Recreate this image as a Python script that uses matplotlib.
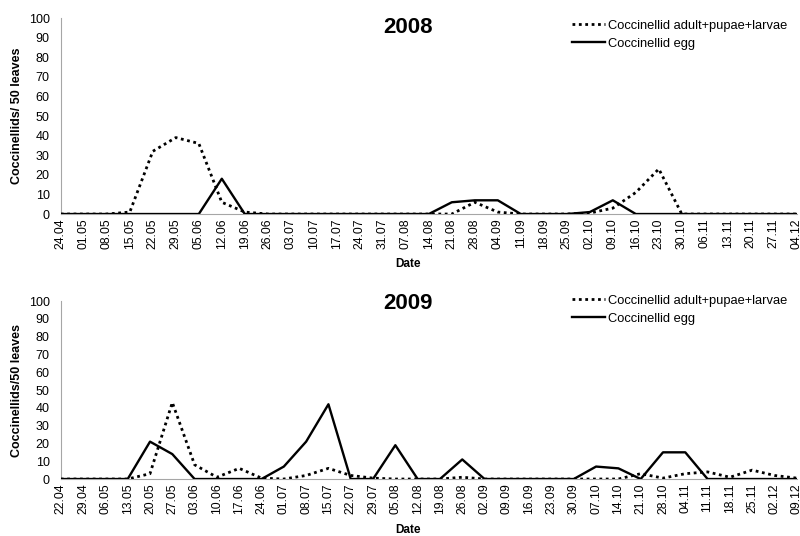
import matplotlib
matplotlib.use("Agg")
import matplotlib.pyplot as plt

plt.rcParams['font.family'] = ['Liberation Sans', 'DejaVu Sans']

dates_2008 = ["24.04", "01.05", "08.05", "15.05", "22.05", "29.05", "05.06", "12.06", "19.06",
              "26.06", "03.07", "10.07", "17.07", "24.07", "31.07", "07.08", "14.08", "21.08",
              "28.08", "04.09", "11.09", "18.09", "25.09", "02.10", "09.10", "16.10", "23.10",
              "30.10", "06.11", "13.11", "20.11", "27.11", "04.12"]
adult_2008 = [0, 0, 0, 1, 32, 39, 36, 6, 1,
              0, 0, 0, 0, 0, 0, 0, 0, 0,
              6, 1, 0, 0, 0, 0.5, 3, 11, 23,
              0, 0, 0, 0, 0, 0]
egg_2008 = [0, 0, 0, 0, 0, 0, 0, 18, 0,
            0, 0, 0, 0, 0, 0, 0, 0, 6,
            7, 7, 0, 0, 0, 1, 7, 0, 0,
            0, 0, 0, 0, 0, 0]

dates_2009 = ["22.04", "29.04", "06.05", "13.05", "20.05", "27.05", "03.06", "10.06", "17.06",
              "24.06", "01.07", "08.07", "15.07", "22.07", "29.07", "05.08", "12.08", "19.08",
              "26.08", "02.09", "09.09", "16.09", "23.09", "30.09", "07.10", "14.10", "21.10",
              "28.10", "04.11", "11.11", "18.11", "25.11", "02.12", "09.12"]
adult_2009 = [0, 0, 0, 0, 3, 43, 8, 1, 6,
              0.5, 0, 2, 6, 2, 0.5, 0, 0, 0,
              1, 0, 0, 0, 0, 0, 0, 0, 3,
              0.5, 3, 4, 1, 5, 2, 0.5]
egg_2009 = [0, 0, 0, 0, 21, 14, 0, 0, 0,
            0, 7, 21, 42, 0, 0, 19, 0, 0,
            11, 0, 0, 0, 0, 0, 7, 6, 0,
            15, 15, 0, 0, 0, 0, 0]

fig = plt.figure(figsize=(8, 5.36), dpi=100)

# (dates, adult, egg, title, ylabel, axes rect, title y, "Date" y, legend top)
panels = [
    (dates_2008, adult_2008, egg_2008, "2008", "Coccinellids/ 50 leaves",
     [0.076, 0.6007, 0.92, 0.3657], 0.948, 0.507, 0.963),
    (dates_2009, adult_2009, egg_2009, "2009", "Coccinellids/50 leaves",
     [0.076, 0.1063, 0.92, 0.3321], 0.433, 0.011, 0.450),
]

for dates, adult, egg, year, ylab, pos, title_y, date_y, leg_y in panels:
    ax = fig.add_axes(pos)
    x = list(range(len(dates)))
    ax.plot(x, adult, color='black', lw=2, linestyle=(0, (1, 1.3)),
            label="Coccinellid adult+pupae+larvae", zorder=3)
    ax.plot(x, egg, color='black', lw=1.7, label="Coccinellid egg", zorder=3)
    ax.set_xlim(0, len(dates) - 1)
    ax.set_ylim(0, 100)
    ax.set_yticks(range(0, 101, 10))
    ax.set_xticks(x)
    ax.set_xticklabels(dates, rotation=90, fontsize=8.8)
    ax.tick_params(axis='y', labelsize=9, length=0, pad=8)
    ax.tick_params(axis='x', length=0, pad=3)
    for s in ['top', 'right']:
        ax.spines[s].set_visible(False)
    for s in ['left', 'bottom']:
        ax.spines[s].set_color('#a6a6a6')
        ax.spines[s].set_linewidth(0.8)
    ax.spines['bottom'].set_zorder(1)
    fig.text(0.51, title_y, year, ha='center', va='center', fontsize=16, fontweight='bold')
    fig.text(0.51, date_y, "Date", ha='center', va='center', fontsize=8.5, fontweight='bold')
    ax.set_ylabel(ylab, fontsize=9, fontweight='bold')
    ax.yaxis.set_label_coords(-0.0516, 0.5)
    ax.legend(loc='upper left', bbox_to_anchor=(0.715, leg_y), bbox_transform=fig.transFigure,
              frameon=False, fontsize=9.3, handlelength=2.56, handletextpad=0.23,
              labelspacing=0.45, borderaxespad=0, borderpad=0)

fig.savefig("out.png", dpi=100)
